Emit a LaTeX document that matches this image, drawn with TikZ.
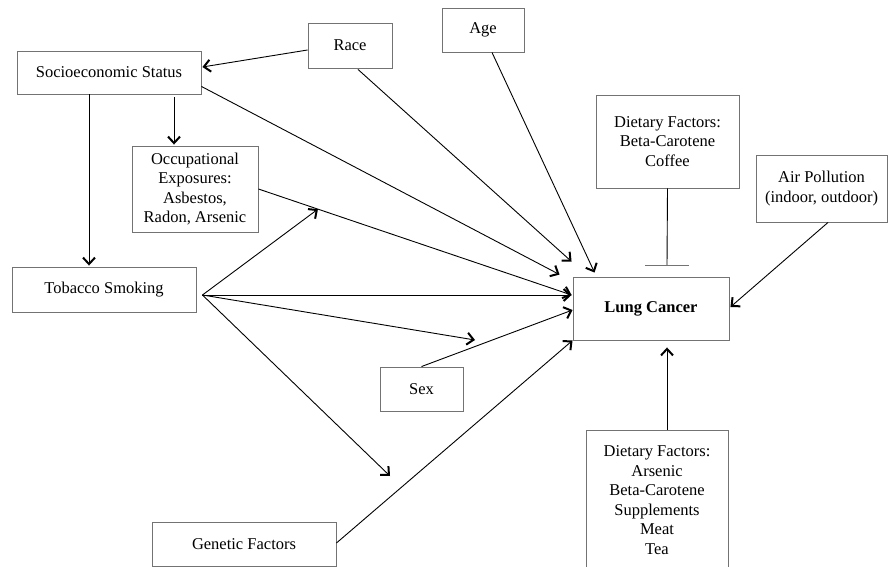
\documentclass[tikz,border=0pt]{standalone}
\usepackage{fontspec}
\setmainfont{Liberation Serif}
\usetikzlibrary{arrows.meta,calc}
\definecolor{boxgray}{rgb}{0.45,0.45,0.45}
\begin{document}
\begin{tikzpicture}[x=1pt,y=-1pt,
  box/.style={draw=boxgray,line width=0.9pt,inner sep=0pt,align=center,
    font=\fontsize{16.5}{19.5}\selectfont},
  conn/.style={line width=0.9pt,black},
  arr/.style={conn,-{Straight Barb[length=6.5pt,width=12pt,line width=2pt]}}]
\useasboundingbox (0,0) rectangle (888,567);
\clip (0,0) rectangle (888,567);
% nodes
\node[box,minimum width=184pt,minimum height=43pt] (ses) at (109,72.5) {Socioeconomic Status};
\node[box,minimum width=84pt,minimum height=45pt] (race) at (350,45.5) {Race};
\node[box,minimum width=82pt,minimum height=44pt] (age) at (483,30) {Age};
\node[box,minimum width=126pt,minimum height=86pt] (occ) at (195,189) {Occupational\\Exposures:\\Asbestos,\\Radon, Arsenic};
\node[box,minimum width=143pt,minimum height=93pt] (diet1) at (667.5,141.5) {Dietary Factors:\\Beta-Carotene\\Coffee};
\node[box,minimum width=131pt,minimum height=67pt] (air) at (821.5,188.5) {Air Pollution\\(indoor, outdoor)};
\node[box,minimum width=156pt,minimum height=63pt] (lc) at (651,308.5) {\bfseries Lung Cancer};
\node[box,minimum width=184pt,minimum height=45pt] (tob) at (104,289.5) {Tobacco Smoking};
\node[box,minimum width=83pt,minimum height=44pt] (sex) at (421.5,389) {Sex};
\node[box,minimum width=184pt,minimum height=44pt] (gen) at (244,544) {Genetic Factors};
\node[box,minimum width=142pt,minimum height=140pt] (diet2) at (657,500) {Dietary Factors:\\Arsenic\\Beta-Carotene\\Supplements\\Meat\\Tea};
% coordinates
\coordinate (tobout) at ($(tob.east)+(6,5.5)$);
\coordinate (lcin) at ($(lc.west)+(-1,-13.5)$);
\path (occ.east) -- (lcin) coordinate[pos=0.19] (occmid);
\coordinate (sexmid) at (475,340);
\coordinate (genmid) at (390,476);
\coordinate (bar) at (667,265);
% connectors
\draw[arr] ($(race.west)+(0,4.5)$) -- ($(ses.east)+(1,-5.5)$);
\draw[arr] ($(race.south)+(8,1)$) -- ($(lc.north west)+(-1,-15)$);
\draw[arr] ($(ses.south east)+(0,-8)$) -- ($(lc.north west)+(-13,-2)$);
\draw[arr] ($(ses.south)+(65,3)$) -- ($(occ.north)+(-21,-1)$);
\draw[arr] ($(ses.south)+(-20,0)$) -- ($(tob.north)+(-15,-1)$);
\draw[arr] ($(age.south)+(9,0)$) -- ($(lc.north west)+(22,-4)$);
\draw[arr] (occ.east) -- (lcin);
\draw[arr] (tobout) -- (lcin);
\draw[arr] (tobout) -- (occmid);
\draw[arr] (tobout) -- (sexmid);
\draw[arr] (tobout) -- (genmid);
\draw[arr] (sex.north) -- ($(lc.west)+(0,1.5)$);
\draw[arr] ($(gen.east)+(0,-1)$) -- (lc.south west);
\draw[conn] (diet1.south) -- (bar);
\draw[draw=boxgray,line width=1pt] ($(bar)+(-22,0)$) -- ($(bar)+(22,0)$);
\draw[arr] ($(air.south)+(6.5,0)$) -- ($(lc.east)+(1,-1.5)$);
\draw[arr] ($(diet2.north)+(10,0)$) -- ($(lc.south)+(16,7)$);
\end{tikzpicture}
\end{document}
